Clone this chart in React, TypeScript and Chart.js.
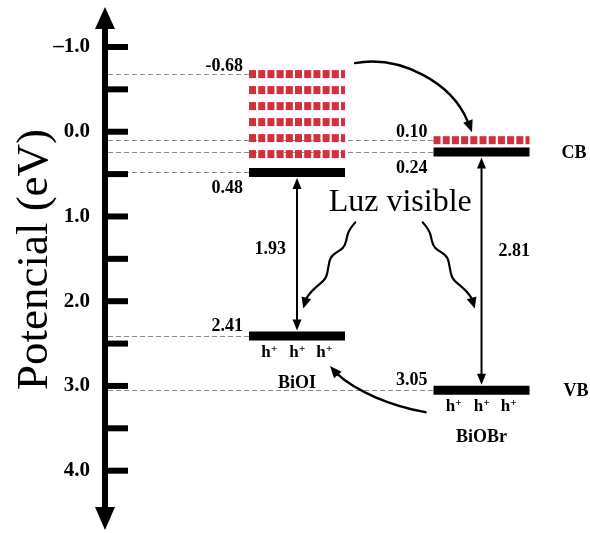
import React, { useEffect, useRef } from 'react';
import { Chart, registerables } from 'chart.js';

Chart.register(...registerables);

// ---------- data ----------
const materials = ['BiOI', 'BiOBr'];
const cbTopLevels = [-0.68, 0.10]; // upper edge of conduction band region (eV)
const cbLevels = [0.48, 0.24]; // conduction band edge (eV)
const vbLevels = [2.41, 3.05]; // valence band edge (eV)
const tickValues = [-1, -0.5, 0, 0.5, 1, 1.5, 2, 2.5, 3, 3.5, 4];
const labeledTicks = [-1, 0, 1, 2, 3, 4];
const axisTitle = 'Potencial (eV)';
const lightLabel = 'Luz visible';
const bandLabels = ['CB', 'VB'];
const holeSymbol = 'h';
const holeCharge = '+';

// ---------- layout / style ----------
const W = 590;
const H = 533;
const Y_MIN = -1.46;
const Y_MAX = 4.7;
const X_MIN = -0.0407;
const X_MAX = 2.588;
const BAR_W = 96;
const LEVEL_W = 9;
const SERIF = '"Liberation Serif", "Times New Roman", Times, serif';
const RED = '#d3303f';

function fmtTick(v: number) {
  return v < 0 ? '\u2013' + Math.abs(v).toFixed(1) : v.toFixed(1);
}

function head(ctx: CanvasRenderingContext2D, tx: number, ty: number, ang: number, len = 11, half = 4.5) {
  const bx = tx - Math.cos(ang) * len;
  const by = ty - Math.sin(ang) * len;
  const px = -Math.sin(ang) * half;
  const py = Math.cos(ang) * half;
  ctx.beginPath();
  ctx.moveTo(tx, ty);
  ctx.lineTo(bx + px, by + py);
  ctx.lineTo(bx - px, by - py);
  ctx.closePath();
  ctx.fill();
}

const wavePts: [number, number][] = [
  [0, 0], [7, 8], [9, 19], [12, 26], [19, 30], [25, 35], [27, 45], [29, 56], [36, 62], [44, 69], [49, 76],
];
const waveTip: [number, number] = [52, 86];

function drawWave(ctx: CanvasRenderingContext2D, sx: number, sy: number, dir: number) {
  const p = wavePts.map(([a, b]) => [sx + dir * a, sy + b]);
  ctx.beginPath();
  ctx.moveTo(p[0][0], p[0][1]);
  for (let i = 1; i < p.length - 1; i++) {
    const mx = (p[i][0] + p[i + 1][0]) / 2;
    const my = (p[i][1] + p[i + 1][1]) / 2;
    ctx.quadraticCurveTo(p[i][0], p[i][1], mx, my);
  }
  const last = p[p.length - 1];
  ctx.lineTo(last[0], last[1]);
  const tx = sx + dir * waveTip[0];
  const ty = sy + waveTip[1];
  const ang = Math.atan2(ty - last[1], tx - last[0]);
  ctx.lineTo(tx - Math.cos(ang) * 8, ty - Math.sin(ang) * 8);
  ctx.stroke();
  head(ctx, tx, ty, ang, 11, 5);
}

const diagramPlugin = {
  id: 'bandDiagram',
  beforeDatasetsDraw(chart: any) {
    const { ctx, chartArea, scales } = chart;
    const x = scales.x;
    const y = scales.y;
    // dashed guide lines
    ctx.save();
    ctx.strokeStyle = '#8c8c8c';
    ctx.lineWidth = 1;
    ctx.setLineDash([5, 3]);
    materials.forEach((_, i) => {
      const left = x.getPixelForValue(i + 1) - BAR_W / 2;
      [cbTopLevels[i], cbLevels[i], vbLevels[i]].forEach((v) => {
        const py = Math.round(y.getPixelForValue(v)) + 0.5;
        ctx.beginPath();
        ctx.moveTo(chartArea.left + 3, py);
        ctx.lineTo(left, py);
        ctx.stroke();
      });
    });
    ctx.restore();

    // red dotted conduction band region, filled inside each bar element
    const meta = chart.getDatasetMeta(0);
    ctx.save();
    ctx.fillStyle = RED;
    meta.data.forEach((bar: any, i: number) => {
      const pr = bar.getProps(['x', 'y', 'base', 'width'], true);
      const left = pr.x - pr.width / 2;
      const right = pr.x + pr.width / 2;
      const top = Math.min(pr.y, pr.base) - 4;
      const limit = y.getPixelForValue(cbLevels[i]) - LEVEL_W / 2 - 2;
      for (let ry = top; ry + 8 <= limit; ry += 16) {
        for (let cx = left; cx < right - 0.5; cx += 9.2) {
          ctx.fillRect(cx, ry, Math.min(7, right - cx), 8);
        }
      }
    });
    ctx.restore();
  },
  afterDatasetsDraw(chart: any) {
    const { ctx, chartArea, scales } = chart;
    const x = scales.x;
    const y = scales.y;
    const ax = chartArea.left;
    ctx.save();
    ctx.fillStyle = '#000';
    ctx.strokeStyle = '#000';

    // y axis with arrows and thick ticks
    ctx.fillRect(ax - 3, chartArea.top + 18, 6, chartArea.bottom - chartArea.top - 38);
    ctx.beginPath();
    ctx.moveTo(ax, chartArea.top - 1);
    ctx.lineTo(ax - 10, chartArea.top + 21);
    ctx.lineTo(ax + 10, chartArea.top + 21);
    ctx.closePath();
    ctx.fill();
    ctx.beginPath();
    ctx.moveTo(ax, chartArea.bottom);
    ctx.lineTo(ax - 10, chartArea.bottom - 23);
    ctx.lineTo(ax + 10, chartArea.bottom - 23);
    ctx.closePath();
    ctx.fill();
    y.ticks.forEach((t: any) => {
      const py = y.getPixelForValue(t.value);
      ctx.fillRect(ax, py - 3, 23, 6);
    });

    // axis title
    ctx.save();
    ctx.translate(47, 259.5);
    ctx.rotate(-Math.PI / 2);
    ctx.font = `45px ${SERIF}`;
    ctx.textAlign = 'center';
    ctx.textBaseline = 'alphabetic';
    ctx.fillText(axisTitle, 0, 0);
    ctx.restore();

    const centers = materials.map((_, i) => x.getPixelForValue(i + 1));
    const n = materials.length;

    ctx.textBaseline = 'alphabetic';
    materials.forEach((name, i) => {
      const cx = centers[i];
      const left = cx - BAR_W / 2;
      const yTop = y.getPixelForValue(cbTopLevels[i]);
      const yCb = y.getPixelForValue(cbLevels[i]);
      const yVb = y.getPixelForValue(vbLevels[i]);

      // level values
      ctx.font = `bold 18px ${SERIF}`;
      ctx.textAlign = 'right';
      ctx.fillText(cbTopLevels[i].toFixed(2), left - 6, yTop - 3);
      ctx.fillText(cbLevels[i].toFixed(2), left - 6, yCb + 21);
      ctx.fillText(vbLevels[i].toFixed(2), left - 6, yVb - 5);

      // band gap double arrow
      const a = yCb + LEVEL_W / 2 + 1;
      const b = yVb - LEVEL_W / 2 - 1;
      ctx.lineWidth = 2;
      ctx.beginPath();
      ctx.moveTo(cx, a + 8);
      ctx.lineTo(cx, b - 8);
      ctx.stroke();
      head(ctx, cx, a, -Math.PI / 2, 11, 4.5);
      head(ctx, cx, b, Math.PI / 2, 11, 4.5);

      // band gap label
      const gap = (vbLevels[i] - cbLevels[i]).toFixed(2);
      ctx.font = `bold 18px ${SERIF}`;
      const gy = y.getPixelForValue(1.45) - 1;
      if (i === 0) {
        ctx.textAlign = 'right';
        ctx.fillText(gap, cx - 11, gy);
      } else {
        ctx.textAlign = 'left';
        ctx.fillText(gap, cx + 17, gy + 2);
      }

      // holes
      [-28, 0, 27].forEach((dx) => {
        ctx.font = `bold 17px ${SERIF}`;
        const wh = ctx.measureText(holeSymbol).width;
        ctx.font = `bold 11px ${SERIF}`;
        const wp = ctx.measureText(holeCharge).width;
        const sx = cx + dx - (wh + wp) / 2;
        const by = yVb + 21;
        ctx.textAlign = 'left';
        ctx.font = `bold 17px ${SERIF}`;
        ctx.fillText(holeSymbol, sx, by);
        ctx.font = `bold 11px ${SERIF}`;
        ctx.fillText(holeCharge, sx + wh + 0.5, by - 5);
      });

      // material name
      ctx.font = `bold 18px ${SERIF}`;
      ctx.textAlign = 'center';
      ctx.fillText(name, cx, yVb + 52);

      // CB / VB labels at last material
      if (i === n - 1) {
        ctx.textAlign = 'left';
        ctx.font = `bold 18px ${SERIF}`;
        ctx.fillText(bandLabels[0], cx + BAR_W / 2 + 32, yCb + 6);
        ctx.fillText(bandLabels[1], cx + BAR_W / 2 + 34, yVb + 6);
      }
    });

    // visible light text and wavy arrows
    const mid = (centers[0] + centers[n - 1]) / 2;
    ctx.font = `32px ${SERIF}`;
    ctx.textAlign = 'center';
    ctx.fillText(lightLabel, mid + 11, y.getPixelForValue(0.93));
    ctx.lineWidth = 2.2;
    ctx.lineCap = 'round';
    const wy = y.getPixelForValue(1.07);
    drawWave(ctx, mid - 34, wy, -1);
    drawWave(ctx, mid + 33.5, wy, 1);

    // electron transfer curve (BiOI CB -> BiOBr CB)
    const r0 = centers[0] + BAR_W / 2;
    const l1 = centers[n - 1] - BAR_W / 2;
    const s1x = r0 + 10;
    const s1y = y.getPixelForValue(cbTopLevels[0]) - 11;
    const t1x = centers[n - 1] - 9.5;
    const t1y = y.getPixelForValue(cbTopLevels[n - 1]) - 8;
    ctx.lineWidth = 2.4;
    ctx.beginPath();
    ctx.moveTo(s1x, s1y);
    ctx.bezierCurveTo(s1x + 45, s1y - 8, s1x + 97, s1y + 19, t1x - 4, t1y - 10);
    ctx.stroke();
    head(ctx, t1x, t1y, Math.atan2(11, 4), 12, 5);

    // hole transfer curve (BiOBr VB -> BiOI VB)
    const s2x = l1 - 8;
    const s2y = y.getPixelForValue(vbLevels[n - 1]) + 22;
    const t2x = r0 - 15;
    const t2y = y.getPixelForValue(vbLevels[0]) + 30;
    ctx.beginPath();
    ctx.moveTo(s2x, s2y);
    ctx.bezierCurveTo(s2x - 33, s2y - 6, s2x - 69, s2y - 20, t2x + 6, t2y + 7);
    ctx.stroke();
    head(ctx, t2x, t2y, Math.atan2(-7, -6), 12, 5);

    ctx.restore();
  },
};

export default function App() {
  const ref = useRef<HTMLCanvasElement | null>(null);

  useEffect(() => {
    if (!ref.current) return;
    const chart = new Chart(ref.current, {
      type: 'bar',
      data: {
        datasets: [
          {
            type: 'bar',
            label: 'CB region',
            data: materials.map((_, i) => ({ x: i + 1, y: [cbTopLevels[i], cbLevels[i]] })) as any,
            backgroundColor: 'rgba(0,0,0,0)',
            borderWidth: 0,
            barThickness: BAR_W,
            grouped: false,
          } as any,
          {
            type: 'scatter',
            label: 'CB',
            data: materials.map((_, i) => ({ x: i + 1, y: cbLevels[i] })),
            pointStyle: 'line',
            pointRadius: BAR_W / 2,
            pointBorderWidth: LEVEL_W,
            pointBorderColor: '#000',
            borderColor: '#000',
            showLine: false,
            clip: false,
          } as any,
          {
            type: 'scatter',
            label: 'VB',
            data: materials.map((_, i) => ({ x: i + 1, y: vbLevels[i] })),
            pointStyle: 'line',
            pointRadius: BAR_W / 2,
            pointBorderWidth: LEVEL_W,
            pointBorderColor: '#000',
            borderColor: '#000',
            showLine: false,
            clip: false,
          } as any,
        ],
      },
      options: {
        animation: false,
        responsive: false,
        maintainAspectRatio: false,
        events: [],
        layout: { autoPadding: false, padding: { top: 8, bottom: 3, left: 0, right: 0 } },
        plugins: { legend: { display: false }, tooltip: { enabled: false } },
        scales: {
          x: {
            type: 'linear',
            min: X_MIN,
            max: X_MAX,
            display: false,
            offset: false,
            grid: { offset: false },
          },
          y: {
            type: 'linear',
            reverse: true,
            min: Y_MIN,
            max: Y_MAX,
            afterBuildTicks: (scale: any) => {
              scale.ticks = tickValues.map((v) => ({ value: v }));
            },
            afterFit: (scale: any) => {
              scale.width = 105;
              scale.paddingTop = 0;
              scale.paddingBottom = 0;
              scale.paddingLeft = 0;
              scale.paddingRight = 0;
            },
            grid: { display: false, drawTicks: false },
            border: { display: false },
            ticks: {
              autoSkip: false,
              padding: 15,
              color: '#000',
              font: { family: SERIF, size: 21, weight: 'bold' },
              callback: (v: any) => (labeledTicks.includes(Number(v)) ? fmtTick(Number(v)) : ''),
            },
          },
        },
      } as any,
      plugins: [diagramPlugin],
    });
    return () => chart.destroy();
  }, []);

  return (
    <div style={{ position: 'fixed', left: 0, top: 0, width: W, height: H, background: '#fff' }}>
      <canvas ref={ref} width={W} height={H} style={{ display: 'block' }} />
    </div>
  );
}
